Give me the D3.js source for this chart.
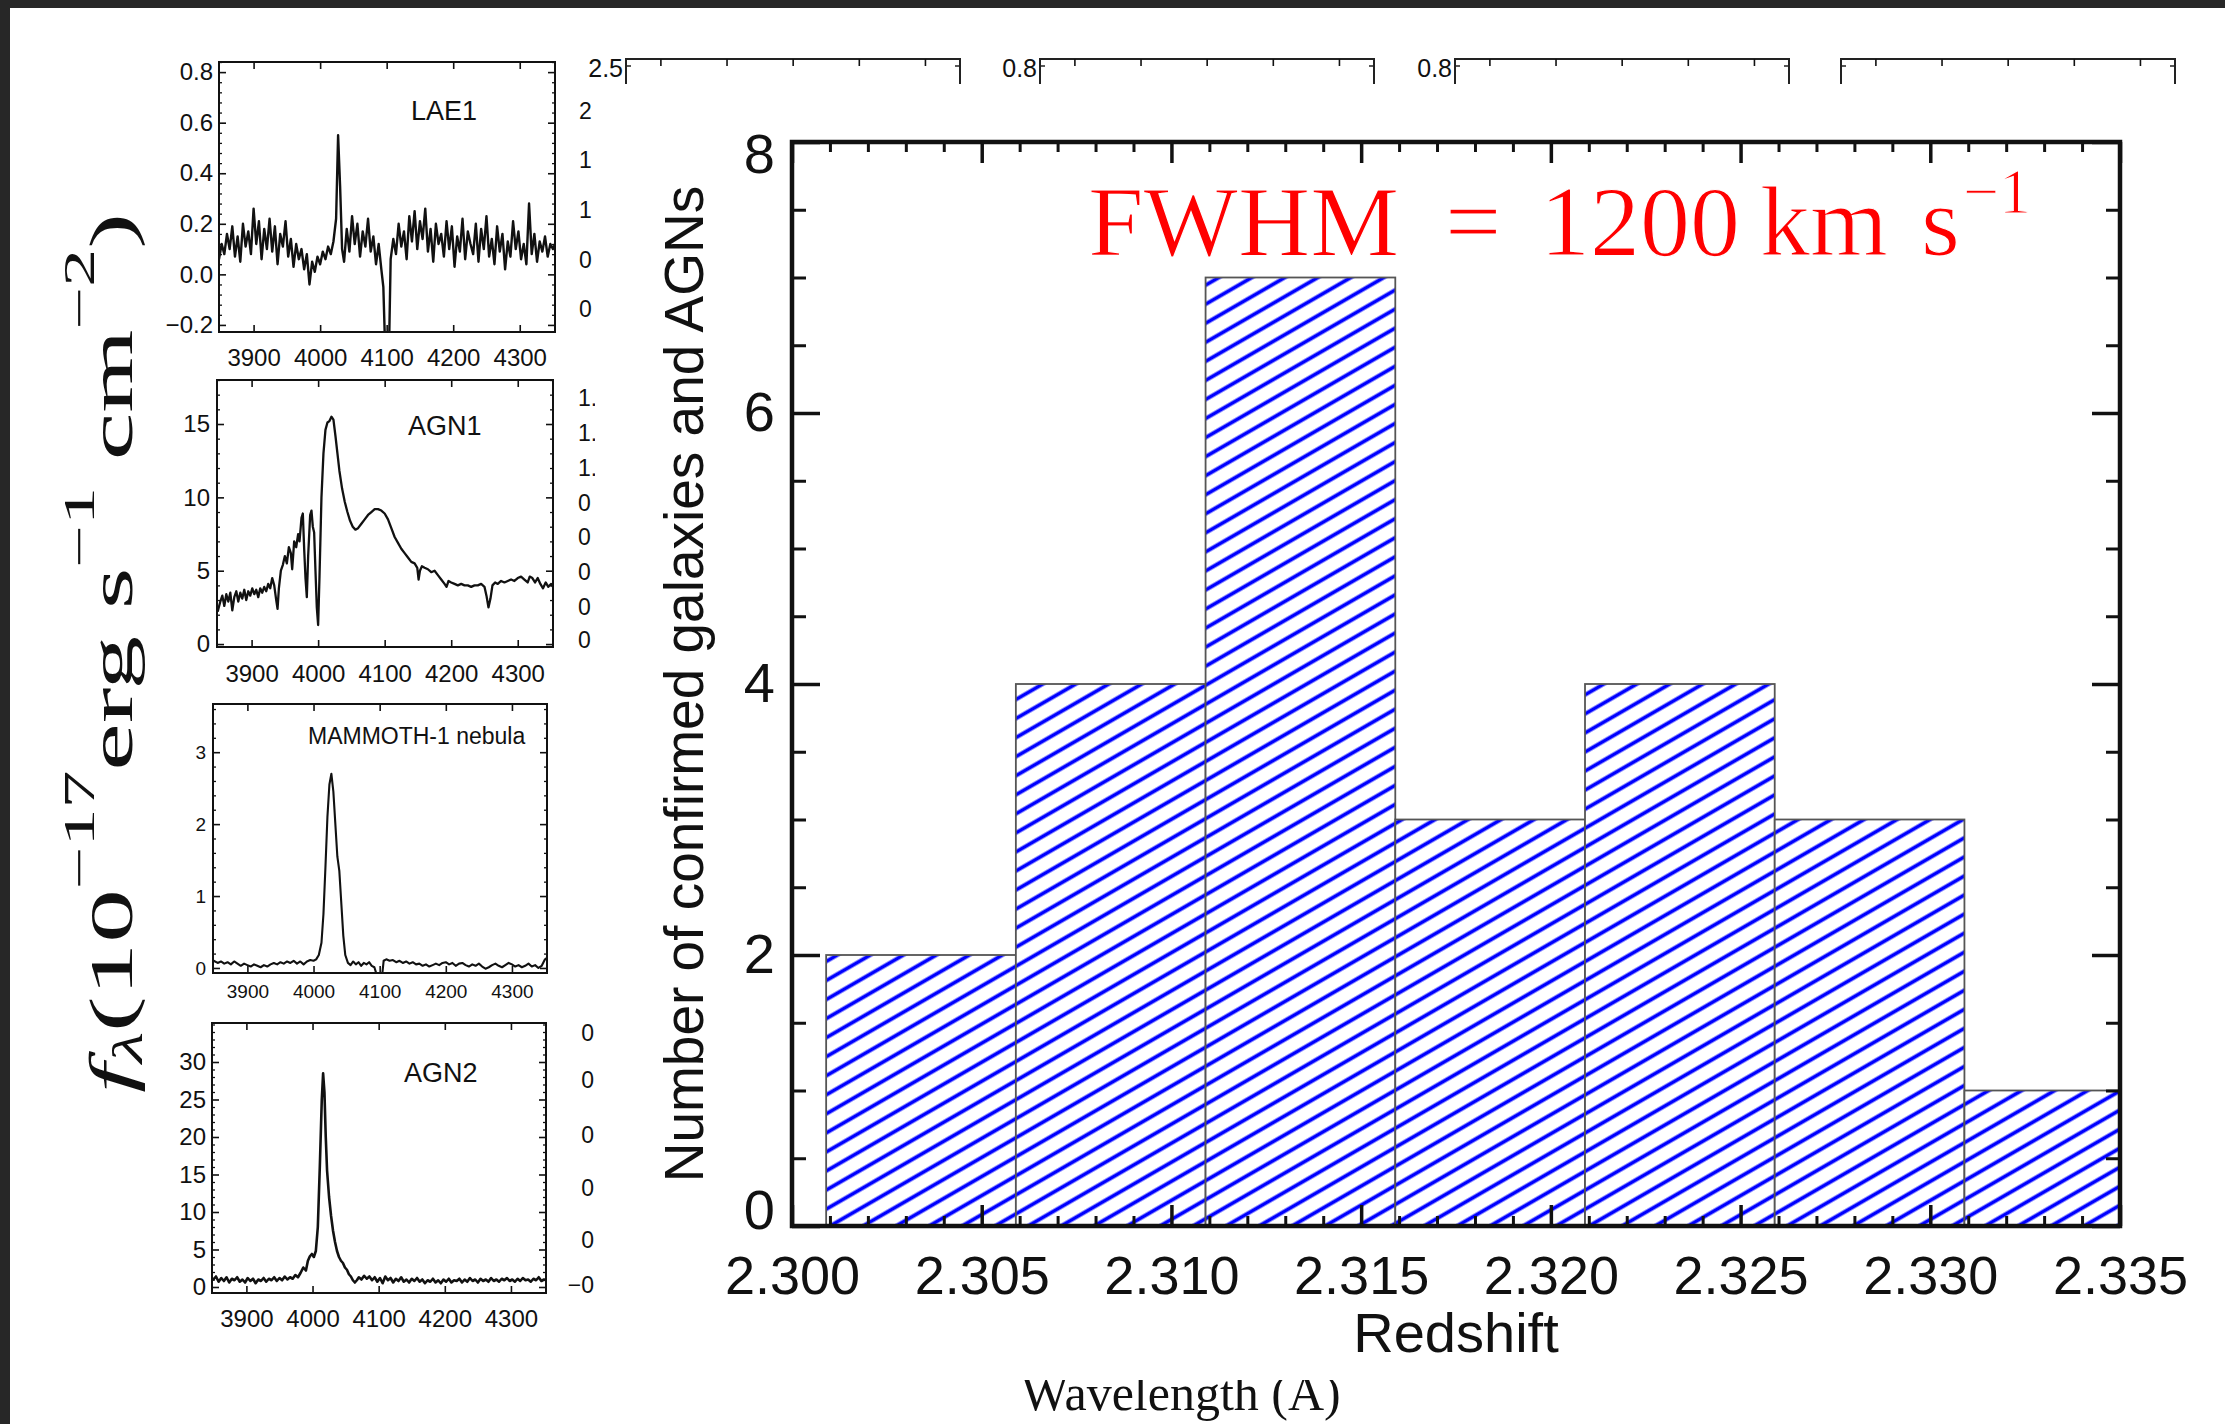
<!DOCTYPE html>
<html><head><meta charset="utf-8">
<script src="https://cdn.jsdelivr.net/npm/d3@7"></script>
<style>body{margin:0;background:#fff;overflow:hidden}svg{display:block}</style>
</head><body>
<svg id="c" width="2225" height="1424"></svg>
<script>
// ---------------- DATA ----------------
const binStarts = [2.3009, 2.3059, 2.3109, 2.3159, 2.3209, 2.3259, 2.3309];
const binCounts = [2, 4, 7, 3, 4, 3, 1];
const binWidth = 0.005;
const redshiftTicks = [2.300, 2.305, 2.310, 2.315, 2.320, 2.325, 2.330, 2.335];
const countTicks = [0, 2, 4, 6, 8];
const wavelengthTicks = [3900, 4000, 4100, 4200, 4300];
const lae1YTicks = [-0.2, 0.0, 0.2, 0.4, 0.6, 0.8];
const agn1YTicks = [0, 5, 10, 15];
const mammothYTicks = [0, 1, 2, 3];
const agn2YTicks = [0, 5, 10, 15, 20, 25, 30];
const panelNames = ["LAE1", "AGN1", "MAMMOTH-1 nebula", "AGN2"];
const topBoxLabels = ["2.5", "0.8", "0.8", ""];
const hiddenLabelsRow1 = ["2", "1", "1", "0", "0"];
const hiddenLabelsRow2 = ["1.", "1.", "1.", "0", "0", "0", "0", "0"];
const hiddenLabelsRow4 = ["0", "0", "0", "0", "0", "\u22120"];

const lae1Spec = [[3848,0.06],[3852,0.12],[3856,0.08],[3860,0.16],[3864,0.10],[3868,0.19],[3872,0.07],[3876,0.15],[3880,0.05],[3884,0.20],[3888,0.11],[3892,0.17],[3896,0.08],[3900,0.26],[3904,0.12],[3908,0.21],[3912,0.06],[3916,0.18],[3920,0.10],[3924,0.22],[3928,0.09],[3932,0.19],[3936,0.04],[3940,0.16],[3944,0.11],[3948,0.21],[3952,0.07],[3956,0.14],[3960,0.03],[3964,0.12],[3968,0.06],[3972,0.10],[3976,0.02],[3980,0.08],[3984,-0.04],[3988,0.05],[3992,0.01],[3996,0.07],[4000,0.04],[4004,0.09],[4008,0.06],[4012,0.11],[4016,0.08],[4020,0.13],[4024,0.22],[4027,0.55],[4030,0.35],[4033,0.10],[4036,0.05],[4040,0.18],[4044,0.09],[4048,0.23],[4052,0.12],[4056,0.20],[4060,0.07],[4064,0.17],[4068,0.11],[4072,0.22],[4076,0.09],[4080,0.15],[4084,0.04],[4088,0.12],[4092,0.02],[4095,-0.05],[4097,-0.23],[4104,-0.23],[4106,0.06],[4110,0.14],[4114,0.08],[4118,0.20],[4122,0.11],[4126,0.17],[4130,0.06],[4134,0.23],[4138,0.13],[4142,0.25],[4146,0.10],[4150,0.21],[4154,0.14],[4158,0.26],[4162,0.09],[4166,0.18],[4170,0.05],[4174,0.20],[4178,0.12],[4182,0.16],[4186,0.07],[4190,0.21],[4194,0.10],[4198,0.19],[4202,0.03],[4206,0.15],[4210,0.09],[4214,0.22],[4218,0.06],[4222,0.17],[4226,0.12],[4230,0.08],[4234,0.20],[4238,0.05],[4242,0.18],[4246,0.10],[4250,0.23],[4254,0.07],[4258,0.14],[4262,0.04],[4266,0.19],[4270,0.09],[4274,0.16],[4278,0.02],[4282,0.13],[4286,0.07],[4290,0.21],[4294,0.10],[4298,0.17],[4302,0.06],[4306,0.12],[4310,0.04],[4314,0.28],[4318,0.08],[4322,0.16],[4326,0.05],[4330,0.13],[4334,0.09],[4338,0.15],[4342,0.07],[4346,0.12],[4350,0.10],[4353,0.12]];

const agn1Spec = [[3849,2.2],[3853,2.9],[3856,3.3],[3859,2.6],[3862,3.4],[3865,2.9],[3868,3.5],[3871,2.3],[3874,3.2],[3877,3.6],[3880,2.9],[3883,3.5],[3886,3.1],[3889,3.7],[3892,3.0],[3895,3.6],[3898,3.3],[3901,3.8],[3904,3.4],[3907,3.7],[3910,3.2],[3913,3.8],[3916,3.5],[3919,3.9],[3922,3.6],[3925,4.1],[3928,3.8],[3931,4.5],[3934,4.0],[3937,3.0],[3939,2.4],[3941,3.8],[3944,5.0],[3947,5.4],[3950,6.0],[3953,5.5],[3956,6.6],[3959,6.2],[3961,5.1],[3964,7.0],[3967,6.6],[3970,7.5],[3972,7.0],[3975,8.6],[3977,8.9],[3979,6.5],[3981,4.5],[3983,3.2],[3985,6.0],[3988,8.8],[3990,9.1],[3992,8.0],[3994,7.6],[3996,5.0],[3998,2.5],[4000,1.3],[4002,4.5],[4005,10.0],[4008,13.0],[4011,14.6],[4014,15.1],[4017,15.2],[4020,15.5],[4023,15.3],[4026,14.2],[4029,13.0],[4032,11.8],[4036,10.6],[4040,9.7],[4044,9.0],[4048,8.4],[4052,8.0],[4056,7.8],[4060,7.9],[4065,8.2],[4070,8.5],[4075,8.8],[4080,9.0],[4085,9.2],[4090,9.2],[4095,9.1],[4100,8.9],[4105,8.5],[4110,7.9],[4115,7.3],[4120,6.9],[4125,6.5],[4130,6.2],[4135,5.9],[4140,5.6],[4145,5.5],[4149,5.2],[4151,4.4],[4153,5.0],[4156,5.3],[4160,5.2],[4165,5.1],[4170,4.9],[4175,5.0],[4180,4.7],[4185,4.4],[4190,4.1],[4193,3.9],[4196,4.3],[4200,4.2],[4205,4.1],[4210,4.0],[4215,4.1],[4220,4.0],[4225,4.0],[4230,3.9],[4235,4.0],[4240,4.0],[4245,4.1],[4250,3.9],[4253,3.3],[4256,2.5],[4259,3.1],[4262,4.0],[4266,4.2],[4270,4.1],[4275,4.3],[4280,4.2],[4285,4.3],[4290,4.4],[4295,4.3],[4300,4.5],[4305,4.6],[4310,4.4],[4315,4.2],[4318,4.6],[4322,4.5],[4326,4.2],[4330,4.5],[4334,4.1],[4338,3.8],[4342,4.2],[4346,3.9],[4350,4.1],[4353,3.9]];

const mammothSpec = [[3849,0.10],[3855,0.07],[3860,0.09],[3865,0.06],[3870,0.08],[3875,0.05],[3880,0.09],[3885,0.06],[3890,0.03],[3895,0.06],[3900,0.04],[3905,0.02],[3910,0.05],[3915,0.03],[3920,0.01],[3925,0.04],[3930,0.02],[3935,0.05],[3940,0.07],[3945,0.05],[3950,0.08],[3955,0.06],[3960,0.09],[3965,0.07],[3970,0.10],[3975,0.06],[3980,0.09],[3985,0.05],[3990,0.09],[3995,0.11],[4000,0.10],[4004,0.12],[4008,0.18],[4012,0.35],[4015,0.75],[4018,1.4],[4021,2.1],[4024,2.55],[4027,2.7],[4030,2.45],[4033,2.0],[4036,1.55],[4039,1.35],[4042,0.9],[4045,0.45],[4048,0.18],[4052,0.07],[4056,0.04],[4060,0.09],[4064,0.05],[4068,0.08],[4072,0.03],[4076,0.07],[4080,0.05],[4084,0.08],[4088,0.03],[4092,0.01],[4095,-0.08],[4104,-0.08],[4106,0.10],[4110,0.12],[4115,0.10],[4120,0.11],[4125,0.08],[4130,0.10],[4135,0.07],[4140,0.09],[4145,0.06],[4150,0.08],[4155,0.05],[4160,0.06],[4165,0.03],[4170,0.05],[4175,0.02],[4180,0.04],[4185,0.06],[4190,0.04],[4195,0.07],[4200,0.08],[4205,0.05],[4210,0.07],[4215,0.03],[4220,0.06],[4225,0.07],[4230,0.04],[4235,0.02],[4240,0.05],[4245,0.03],[4250,0.06],[4255,0.02],[4260,-0.01],[4265,0.01],[4270,0.04],[4275,0.06],[4280,0.03],[4285,0.01],[4290,0.04],[4295,0.07],[4300,0.05],[4305,0.02],[4310,0.04],[4315,0.01],[4320,0.03],[4325,0.06],[4330,0.02],[4335,0.04],[4340,0.00],[4345,0.03],[4350,0.12],[4353,0.14]];

const agn2Spec = [[3849,0.9],[3854,1.4],[3858,0.7],[3862,1.2],[3866,0.8],[3870,1.3],[3874,0.6],[3878,1.1],[3882,0.9],[3886,1.3],[3890,0.7],[3894,1.0],[3898,0.6],[3902,1.2],[3906,0.8],[3910,1.1],[3914,0.5],[3918,1.0],[3922,0.8],[3926,1.2],[3930,0.7],[3934,1.1],[3938,0.9],[3942,1.3],[3946,0.8],[3950,1.2],[3954,0.9],[3958,1.4],[3962,1.0],[3966,1.3],[3970,1.1],[3974,1.6],[3978,1.3],[3982,1.9],[3986,2.6],[3990,2.2],[3993,3.5],[3996,4.1],[3999,4.4],[4002,4.0],[4005,4.8],[4008,8.0],[4011,16.0],[4014,25.0],[4016,28.5],[4018,26.0],[4020,20.0],[4022,15.5],[4025,12.0],[4028,9.5],[4031,7.5],[4034,6.0],[4037,4.8],[4040,4.0],[4043,3.5],[4046,3.2],[4049,2.6],[4052,2.3],[4055,1.7],[4058,1.4],[4061,0.9],[4064,0.6],[4067,0.9],[4070,1.3],[4074,1.0],[4078,1.5],[4082,1.1],[4086,1.4],[4090,0.9],[4094,1.3],[4098,0.7],[4102,1.2],[4106,0.5],[4110,1.4],[4114,0.9],[4118,1.2],[4122,0.6],[4126,1.1],[4130,0.8],[4134,1.3],[4138,0.7],[4142,1.0],[4146,0.6],[4150,1.1],[4154,0.8],[4158,1.2],[4162,0.7],[4166,1.0],[4170,0.5],[4174,0.9],[4178,0.7],[4182,1.1],[4186,0.6],[4190,0.9],[4194,0.5],[4198,1.0],[4202,0.7],[4206,1.1],[4210,0.6],[4214,0.9],[4218,0.8],[4222,1.1],[4226,0.6],[4230,1.0],[4234,0.7],[4238,1.2],[4242,0.8],[4246,1.0],[4250,0.6],[4254,1.1],[4258,0.8],[4262,1.0],[4266,0.7],[4270,1.2],[4274,0.8],[4278,1.0],[4282,0.7],[4286,1.1],[4290,0.9],[4294,1.2],[4298,0.8],[4302,1.0],[4306,0.7],[4310,1.1],[4314,0.8],[4318,1.2],[4322,0.9],[4326,1.0],[4330,0.7],[4334,1.1],[4338,0.9],[4342,1.3],[4346,0.8],[4350,1.0],[4353,0.9]];

// ---------------- LAYOUT / STYLE ----------------
const W = 2225, H = 1424;
const SANS = "'Liberation Sans', Arial, Helvetica, sans-serif";
const SERIF = "'Liberation Serif', 'Times New Roman', serif";
const INK = "#111";
const waveDomain = [3848, 4353];

const svg = d3.select("#c");
svg.append("rect").attr("width", W).attr("height", H).attr("fill", "#fff");
const defs = svg.append("defs");
const pat = defs.append("pattern").attr("id", "hatch")
  .attr("patternUnits", "userSpaceOnUse").attr("width", 20).attr("height", 16.5)
  .attr("patternTransform", "rotate(-30)");
pat.append("rect").attr("width", 20).attr("height", 16.5).attr("fill", "#fff");
pat.append("line").attr("x1", -1).attr("x2", 21).attr("y1", 8.25).attr("y2", 8.25)
  .attr("stroke", "#0000ff").attr("stroke-width", 3.8);

function styleAxis(sel, fs, lw) {
  sel.select(".domain").remove();
  sel.attr("font-family", SANS).attr("font-size", fs).attr("color", INK);
  sel.selectAll("line").attr("stroke-width", lw);
}
function minorValues(dom, step, majors) {
  const lo = Math.min(dom[0], dom[1]), hi = Math.max(dom[0], dom[1]);
  const out = [];
  const start = Math.ceil((lo - 1e-9) / step);
  for (let k = start; k * step <= hi + 1e-9; k++) {
    const v = +(k * step).toFixed(6);
    if (!majors.some(m => Math.abs(m - v) < step * 1e-3)) out.push(v);
  }
  return out;
}

// ---------------- LEFT SPECTRA PANELS ----------------
const panelDefs = [
  { spec: lae1Spec, yTicks: lae1YTicks, fmt: ".1f", box: [219, 62, 555, 332], yDom: [-0.228, 0.84], minor: 0.04, fs: 24, xPad: 17, yPad: 6, nameX: 411, nameY: 120, nameFs: 27, lw: 2.4 },
  { spec: agn1Spec, yTicks: agn1YTicks, fmt: "d", box: [217, 380, 553, 647], yDom: [-0.2, 18.0], minor: 1, fs: 24, xPad: 18, yPad: 7, nameX: 408, nameY: 435, nameFs: 27, lw: 2.3 },
  { spec: mammothSpec, yTicks: mammothYTicks, fmt: "d", box: [213, 704, 547, 973], yDom: [-0.07, 3.67], minor: 0.2, fs: 19, xPad: 12, yPad: 7, nameX: 308, nameY: 744, nameFs: 23, lw: 2.1 },
  { spec: agn2Spec, yTicks: agn2YTicks, fmt: "d", box: [212, 1023, 546, 1293], yDom: [-0.8, 35.2], minor: 1, fs: 24, xPad: 17, yPad: 6, nameX: 404, nameY: 1082, nameFs: 27, lw: 2.6 }
];

panelDefs.forEach((p, i) => {
  const [x0, y0, x1, y1] = p.box;
  const xs = d3.scaleLinear(waveDomain, [x0, x1]);
  const ys = d3.scaleLinear(p.yDom, [y1, y0]);
  const g = svg.append("g");
  defs.append("clipPath").attr("id", "pc" + i).append("rect")
    .attr("x", x0).attr("y", y0).attr("width", x1 - x0).attr("height", y1 - y0);
  g.append("path").datum(p.spec).attr("clip-path", `url(#pc${i})`)
    .attr("d", d3.line(d => xs(d[0]), d => ys(d[1])))
    .attr("fill", "none").attr("stroke", INK).attr("stroke-width", p.lw).attr("stroke-linejoin", "round");
  g.append("g").attr("transform", `translate(0,${y1})`)
    .call(d3.axisBottom(xs).tickValues(wavelengthTicks).tickSize(-7).tickPadding(p.xPad).tickFormat(d3.format("d")))
    .call(styleAxis, p.fs, 1.6);
  g.append("g").attr("transform", `translate(0,${y0})`)
    .call(d3.axisTop(xs).tickValues(wavelengthTicks).tickSize(-7).tickFormat(""))
    .call(styleAxis, p.fs, 1.6);
  g.append("g").attr("transform", `translate(${x0},0)`)
    .call(d3.axisLeft(ys).tickValues(p.yTicks).tickSize(-7).tickPadding(p.yPad).tickFormat(d3.format(p.fmt)))
    .call(styleAxis, p.fs, 1.6);
  g.append("g").attr("transform", `translate(${x1},0)`)
    .call(d3.axisRight(ys).tickValues(p.yTicks).tickSize(-7).tickFormat(""))
    .call(styleAxis, p.fs, 1.6);
  const mv = minorValues(p.yDom, p.minor, p.yTicks);
  g.append("g").attr("transform", `translate(${x0},0)`)
    .call(d3.axisLeft(ys).tickValues(mv).tickSize(-3).tickFormat(""))
    .call(styleAxis, p.fs, 1.3);
  g.append("g").attr("transform", `translate(${x1},0)`)
    .call(d3.axisRight(ys).tickValues(mv).tickSize(-3).tickFormat(""))
    .call(styleAxis, p.fs, 1.3);
  g.append("rect").attr("x", x0).attr("y", y0).attr("width", x1 - x0).attr("height", y1 - y0)
    .attr("fill", "none").attr("stroke", INK).attr("stroke-width", 2);
  g.append("text").attr("x", p.nameX).attr("y", p.nameY).text(panelNames[i])
    .attr("font-family", SANS).attr("font-size", p.nameFs).attr("fill", INK);
});

// fragments of hidden neighbouring panels' axis labels
const hidG = svg.append("g").attr("font-family", SANS).attr("font-size", 23).attr("fill", INK);
const row1Y = [111, 160, 210, 260, 309];
hiddenLabelsRow1.forEach((t, k) => hidG.append("text").attr("x", 579).attr("y", row1Y[k]).attr("dy", "0.36em").text(t));
const row2Y = [398, 433, 468, 503, 537, 572, 607, 640];
hiddenLabelsRow2.forEach((t, k) => hidG.append("text").attr("x", 578).attr("y", row2Y[k]).attr("dy", "0.36em").text(t));
const row4Y = [1033, 1080, 1135, 1188, 1240, 1285];
hiddenLabelsRow4.forEach((t, k) => hidG.append("text").attr("x", 594).attr("y", row4Y[k]).attr("dy", "0.36em").attr("text-anchor", "end").text(t));

// partially hidden top panels
const topBoxX = [626, 1040, 1455, 1841];
topBoxX.forEach((bx, k) => {
  const xs = d3.scaleLinear(waveDomain, [bx, bx + 334]);
  const g = svg.append("g");
  g.append("rect").attr("x", bx).attr("y", 59).attr("width", 334).attr("height", 120)
    .attr("fill", "none").attr("stroke", "#222").attr("stroke-width", 2);
  g.append("g").attr("transform", "translate(0,59)")
    .call(d3.axisTop(xs).tickValues(wavelengthTicks).tickSize(-7).tickFormat(""))
    .call(styleAxis, 20, 1.6);
  g.append("line").attr("x1", bx).attr("x2", bx + 5).attr("y1", 66).attr("y2", 66).attr("stroke", "#222").attr("stroke-width", 1.5);
  g.append("line").attr("x1", bx + 334).attr("x2", bx + 329).attr("y1", 66).attr("y2", 66).attr("stroke", "#222").attr("stroke-width", 1.5);
  if (topBoxLabels[k]) {
    g.append("text").attr("x", bx - 3).attr("y", 68).attr("dy", "0.36em").attr("text-anchor", "end")
      .attr("font-family", SANS).attr("font-size", 25).attr("fill", INK).text(topBoxLabels[k]);
  }
});

// shared x label of the background figure (top cut by overlay)
svg.append("text").attr("x", 1181).attr("y", 1410).attr("text-anchor", "middle")
  .attr("font-family", SERIF).attr("font-size", 50).attr("fill", INK).text("Wavelength (\u00C5)");

// big y label of the background figure
const fl = svg.append("g").attr("transform", "translate(132,1093) rotate(-90)");
const flText = fl.append("text").attr("font-family", SERIF).attr("font-size", 62).attr("fill", INK);
flText.append("tspan").attr("font-style", "italic").text("f");
flText.append("tspan").attr("font-style", "italic").attr("font-size", 42).attr("dy", 10).text("\u03BB");
flText.append("tspan").attr("dy", -10).text("(10");
flText.append("tspan").attr("font-size", 44).attr("dy", -38).text("\u221217");
flText.append("tspan").attr("dy", 38).text("erg s");
flText.append("tspan").attr("font-size", 44).attr("dy", -38).text("\u22121");
flText.append("tspan").attr("dy", 38).text(" cm");
flText.append("tspan").attr("font-size", 44).attr("dy", -38).text("\u22122");
flText.append("tspan").attr("dy", 38).text(")");
const natLen = flText.node().getComputedTextLength();
const sx = natLen > 0 ? 880 / natLen : 1.4;
fl.attr("transform", `translate(132,1093) rotate(-90) scale(${sx},1)`);

// ---------------- OVERLAY (histogram picture) ----------------
svg.append("rect").attr("x", 595).attr("y", 84).attr("width", W - 595).attr("height", 1380 - 84).attr("fill", "#fff");

const X0 = 792, X1 = 2120, Y0 = 142, Y1 = 1226;
const x = d3.scaleLinear([2.300, 2.335], [X0, X1]);
const y = d3.scaleLinear([0, 8], [Y1, Y0]);
defs.append("clipPath").attr("id", "plotclip").append("rect")
  .attr("x", X0).attr("y", Y0).attr("width", X1 - X0).attr("height", Y1 - Y0);

const bars = svg.append("g").attr("clip-path", "url(#plotclip)");
bars.selectAll("rect").data(binStarts.map((b, i) => ({ b, c: binCounts[i] })))
  .join("rect")
  .attr("x", d => x(d.b)).attr("width", d => x(d.b + binWidth) - x(d.b))
  .attr("y", d => y(d.c)).attr("height", d => y(0) - y(d.c))
  .attr("fill", "url(#hatch)").attr("stroke", "#555").attr("stroke-width", 1.8);

const zMinor = minorValues([2.300, 2.335], 0.001, redshiftTicks);
const cMinor = minorValues([0, 8], 0.5, countTicks);
svg.append("g").attr("transform", `translate(0,${Y1})`)
  .call(d3.axisBottom(x).tickValues(redshiftTicks).tickSize(-21).tickPadding(30).tickFormat(d3.format(".3f")))
  .call(styleAxis, 54, 3.5);
svg.append("g").attr("transform", `translate(0,${Y1})`)
  .call(d3.axisBottom(x).tickValues(zMinor).tickSize(-10).tickFormat(""))
  .call(styleAxis, 54, 3);
svg.append("g").attr("transform", `translate(0,${Y0})`)
  .call(d3.axisTop(x).tickValues(redshiftTicks).tickSize(-21).tickFormat(""))
  .call(styleAxis, 54, 3.5);
svg.append("g").attr("transform", `translate(0,${Y0})`)
  .call(d3.axisTop(x).tickValues(zMinor).tickSize(-10).tickFormat(""))
  .call(styleAxis, 54, 3);
const leftAx = svg.append("g").attr("transform", `translate(${X0},0)`)
  .call(d3.axisLeft(y).tickValues(countTicks).tickSize(-28).tickPadding(17).tickFormat(d3.format("d")))
  .call(styleAxis, 56, 3.5);
leftAx.selectAll(".tick text").attr("dy", d => d === 8 ? "0.55em" : (d === 0 ? "0.05em" : "0.32em"));
svg.append("g").attr("transform", `translate(${X0},0)`)
  .call(d3.axisLeft(y).tickValues(cMinor).tickSize(-14).tickFormat(""))
  .call(styleAxis, 56, 3);
svg.append("g").attr("transform", `translate(${X1},0)`)
  .call(d3.axisRight(y).tickValues(countTicks).tickSize(-28).tickFormat(""))
  .call(styleAxis, 56, 3.5);
svg.append("g").attr("transform", `translate(${X1},0)`)
  .call(d3.axisRight(y).tickValues(cMinor).tickSize(-14).tickFormat(""))
  .call(styleAxis, 56, 3);
svg.append("rect").attr("x", X0).attr("y", Y0).attr("width", X1 - X0).attr("height", Y1 - Y0)
  .attr("fill", "none").attr("stroke", INK).attr("stroke-width", 4.5);

svg.append("text").attr("x", (X0 + X1) / 2).attr("y", 1352).attr("text-anchor", "middle")
  .attr("font-family", SANS).attr("font-size", 56).attr("fill", INK).text("Redshift");
svg.append("text").attr("transform", `translate(703,${(Y0 + Y1) / 2}) rotate(-90)`)
  .attr("text-anchor", "middle").attr("font-family", SANS).attr("font-size", 55).attr("fill", INK)
  .text("Number of confirmed galaxies and AGNs");

// annotation
const ann = svg.append("text").attr("y", 255).attr("font-family", SERIF).attr("font-size", 100)
  .attr("fill", "#ff0000").attr("stroke", "#fff").attr("stroke-width", 1.2);
ann.append("tspan").attr("x", 1088).text("FWHM");
ann.append("tspan").attr("x", 1445).text("=");
ann.append("tspan").attr("x", 1540).text("1200");
ann.append("tspan").attr("x", 1760).text("km");
ann.append("tspan").attr("x", 1921).text("s");
ann.append("tspan").attr("x", 1963).attr("y", 213).attr("font-size", 64).text("\u22121");

// dark screenshot frame
svg.append("rect").attr("x", 0).attr("y", 0).attr("width", W).attr("height", 8).attr("fill", "#272727");
svg.append("rect").attr("x", 0).attr("y", 0).attr("width", 10).attr("height", H).attr("fill", "#272727");
</script>
</body></html>
